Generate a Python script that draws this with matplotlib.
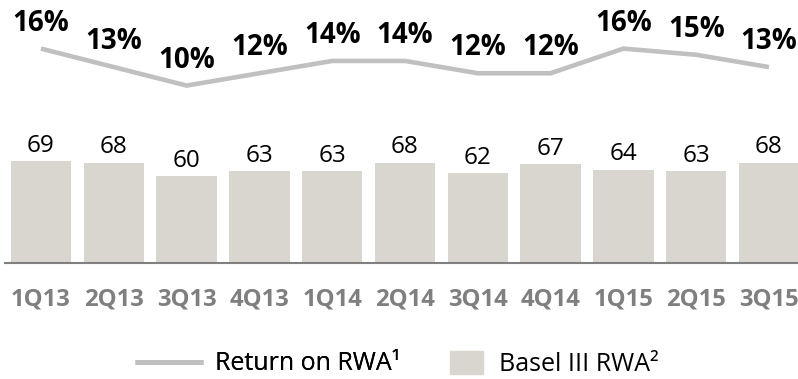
import matplotlib
matplotlib.use("Agg")
import matplotlib.pyplot as plt
from matplotlib.lines import Line2D
from matplotlib.patches import Patch

plt.rcParams["font.family"] = ["Open Sans", "DejaVu Sans"]

quarters = ["1Q13", "2Q13", "3Q13", "4Q13", "1Q14", "2Q14",
            "3Q14", "4Q14", "1Q15", "2Q15", "3Q15"]
rwa = [69, 68, 60, 63, 63, 68, 62, 67, 64, 63, 68]          # Basel III RWA
ret_rwa = [16, 13, 10, 12, 14, 14, 12, 12, 16, 15, 13]      # Return on RWA, %

BAR_COLOR = "#d9d5cf"
LINE_COLOR = "#c0c0c0"
AXIS_COLOR = "#808080"
W, H, DPI = 798, 379, 100

fig = plt.figure(figsize=(W / DPI, H / DPI), dpi=DPI)
base_px = 116.5
ax = fig.add_axes([0, base_px / H, 1, 1 - base_px / H])
ax2 = ax.twinx()

x = list(range(len(quarters)))
ax.bar(x, rwa, width=0.83, color=BAR_COLOR, zorder=1)
ax.set_xlim(-41 / 72.8, (W - 41) / 72.8)
ax.set_ylim(10, 162.6)

for xi, v in zip(x, rwa):
    ax.annotate(f"{v}", (xi, v), xytext=(0, 9.5), textcoords="offset pixels",
                ha="center", va="baseline", fontsize=17.5, color="black")

ax.axhline(10, xmin=5 / W, xmax=1, color=AXIS_COLOR, lw=1.5, clip_on=False, zorder=3)

ax2.plot(x, ret_rwa, color=LINE_COLOR, lw=3.3, solid_joinstyle="miter",
         solid_capstyle="butt", zorder=2)
ax2.set_ylim(-18.72, 23.89)
for xi, v in zip(x, ret_rwa):
    ax2.annotate(f"{v}%", (xi, v), xytext=(0, 18), textcoords="offset pixels",
                 ha="center", va="baseline", fontsize=20, fontweight="bold",
                 color="black")

ax.set_xticks(x)
ax.set_xticklabels(quarters, fontsize=17.2, fontweight="bold", color="#7f7f7f")
for lbl in ax.get_xticklabels():
    lbl.set_va("baseline")
ax.tick_params(axis="x", length=0, pad=31)
ax.set_yticks([])
ax2.set_yticks([])
for a in (ax, ax2):
    for s in a.spines.values():
        s.set_visible(False)
ax.patch.set_visible(False)

fs_leg = 18
fs_px = fs_leg * DPI / 72
leg1 = fig.legend(handles=[Line2D([], [], color=LINE_COLOR, lw=3.6, solid_capstyle="butt")],
                  labels=["Return on RWA\u00b9"], loc="center left",
                  bbox_to_anchor=(135 / W, 15 / H), frameon=False, fontsize=fs_leg,
                  borderpad=0, borderaxespad=0, handlelength=68 / fs_px,
                  handletextpad=12 / fs_px)
leg2 = fig.legend(handles=[Patch(color=BAR_COLOR)],
                  labels=["Basel III RWA\u00b2"], loc="center left",
                  bbox_to_anchor=(450 / W, 15 / H), frameon=False, fontsize=fs_leg,
                  borderpad=0, borderaxespad=0, handlelength=33 / fs_px,
                  handleheight=25 / fs_px, handletextpad=16 / fs_px)
fig.add_artist(leg1)

fig.savefig("out.png", dpi=DPI)
